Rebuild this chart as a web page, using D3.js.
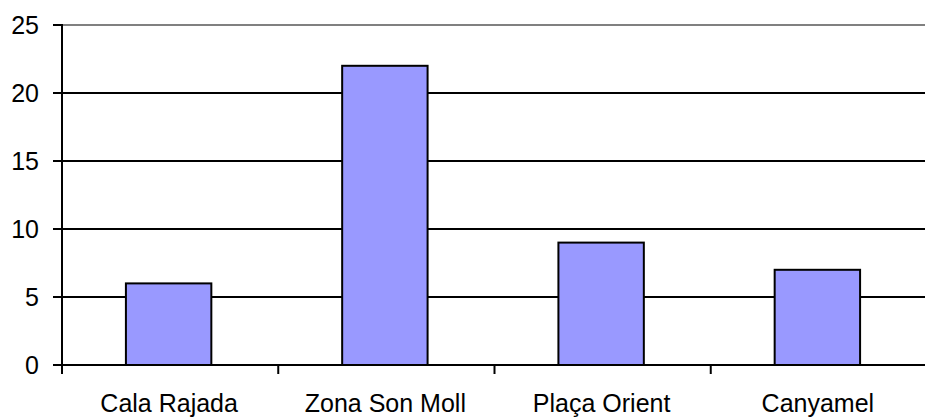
<!DOCTYPE html>
<html>
<head>
<meta charset="utf-8">
<script src="https://cdn.jsdelivr.net/npm/d3@7"></script>
<style>
  body { margin: 0; background: #fff; }
  svg text { font-family: "Liberation Sans", Arial, sans-serif; fill: #000; }
</style>
</head>
<body>
<svg width="925" height="420"></svg>
<script>
let categories = ["Cala Rajada", "Zona Son Moll", "Plaça Orient", "Canyamel"];
let values = [6, 22, 9, 7];
let yTicks = [0, 5, 10, 15, 20, 25];

let svg = d3.select("svg");
let mLeft = 62, mRight = 927, mTop = 25, mBottom = 365;

let x = d3.scaleBand().domain(categories).range([mLeft, mRight]).padding(0);
let y = d3.scaleLinear().domain([0, 25]).range([mBottom, mTop]);
let barW = x.bandwidth() * 0.395;

// gridlines
svg.append("g").selectAll("line")
  .data(yTicks.filter(function(d){ return d > 0; }))
  .enter().append("line")
  .attr("x1", mLeft).attr("x2", mRight)
  .attr("y1", function(d){ return y(d); })
  .attr("y2", function(d){ return y(d); })
  .attr("stroke", function(d){ return d === 25 ? "#808080" : "#000"; })
  .attr("stroke-width", 2);

// bars
svg.append("g").selectAll("rect")
  .data(values)
  .enter().append("rect")
  .attr("x", function(d, i){ return x(categories[i]) + x.bandwidth() / 2 - barW / 2 - 1.5; })
  .attr("y", function(d){ return y(d); })
  .attr("width", barW)
  .attr("height", function(d){ return y(0) - y(d); })
  .attr("fill", "#9999FF")
  .attr("stroke", "#000")
  .attr("stroke-width", 2);

// y axis
let yAxis = svg.append("g");
yAxis.append("line")
  .attr("x1", mLeft).attr("x2", mLeft)
  .attr("y1", mTop - 1).attr("y2", mBottom + 9)
  .attr("stroke", "#000").attr("stroke-width", 2);
yAxis.selectAll(".tick")
  .data(yTicks)
  .enter().append("line")
  .attr("x1", mLeft - 9).attr("x2", mLeft)
  .attr("y1", function(d){ return y(d); })
  .attr("y2", function(d){ return y(d); })
  .attr("stroke", "#000").attr("stroke-width", 2);
yAxis.selectAll("text")
  .data(yTicks)
  .enter().append("text")
  .attr("x", 39)
  .attr("y", function(d){ return y(d); })
  .attr("dy", "0.36em")
  .attr("text-anchor", "end")
  .attr("font-size", 25)
  .text(function(d){ return d; });

// x axis
let xAxis = svg.append("g");
xAxis.append("line")
  .attr("x1", mLeft).attr("x2", mRight)
  .attr("y1", mBottom).attr("y2", mBottom)
  .attr("stroke", "#000").attr("stroke-width", 2);
xAxis.selectAll(".tick")
  .data(categories.slice(1))
  .enter().append("line")
  .attr("x1", function(d){ return x(d); })
  .attr("x2", function(d){ return x(d); })
  .attr("y1", mBottom).attr("y2", mBottom + 9)
  .attr("stroke", "#000").attr("stroke-width", 2);
xAxis.selectAll("text")
  .data(categories)
  .enter().append("text")
  .attr("x", function(d){ return x(d) + x.bandwidth() / 2 - 1; })
  .attr("y", 412)
  .attr("text-anchor", "middle")
  .attr("font-size", 25)
  .text(function(d){ return d; });
</script>
</body>
</html>
